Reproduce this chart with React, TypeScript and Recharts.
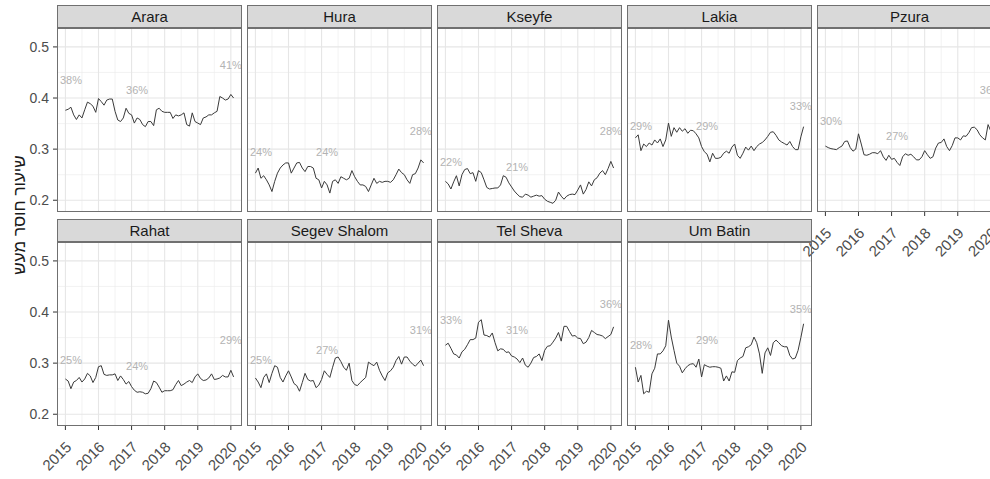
import React from "react";
import { LineChart, Line, XAxis, YAxis, CartesianGrid, ReferenceDot } from "recharts";

// monthly observations, Jan 2015 .. Feb 2020
const START_YEAR = 2015;
const MONTHS = Array.from({ length: 62 }, (_, i) => START_YEAR + i / 12);

const YEARS = [2015, 2016, 2017, 2018, 2019, 2020];
const HALF_YEARS = [2015.5, 2016.5, 2017.5, 2018.5, 2019.5];
const Y_TICKS = [0.2, 0.3, 0.4, 0.5];
const Y_MINOR = [0.25, 0.35, 0.45];

const araraValues = [
  0.376, 0.378, 0.382, 0.367, 0.358, 0.367, 0.361, 0.377, 0.392, 0.389,
  0.384, 0.372, 0.399, 0.393, 0.386, 0.396, 0.398, 0.398, 0.374, 0.357,
  0.354, 0.361, 0.38, 0.37, 0.367, 0.351, 0.361, 0.358, 0.348, 0.344,
  0.354, 0.354, 0.346, 0.377, 0.38, 0.374, 0.372, 0.372, 0.372, 0.36,
  0.367, 0.365, 0.367, 0.371, 0.348, 0.345, 0.371, 0.354, 0.351, 0.348,
  0.361, 0.363, 0.367, 0.367, 0.371, 0.374, 0.403, 0.4, 0.396, 0.398,
  0.407, 0.4,
];
const huraValues = [
  0.253, 0.263, 0.243, 0.248, 0.24, 0.23, 0.217, 0.237, 0.253, 0.263,
  0.269, 0.273, 0.273, 0.253, 0.263, 0.273, 0.274, 0.263, 0.256, 0.266,
  0.266, 0.263, 0.243, 0.24, 0.224, 0.237, 0.23, 0.214, 0.237, 0.24,
  0.233, 0.246, 0.243, 0.24, 0.243, 0.258, 0.246, 0.237, 0.23, 0.23,
  0.227, 0.217, 0.23, 0.243, 0.233, 0.237, 0.235, 0.237, 0.237, 0.235,
  0.24, 0.25, 0.261, 0.254, 0.25, 0.24, 0.233, 0.25, 0.252, 0.263,
  0.279, 0.273,
];
const kseyfeValues = [
  0.237, 0.232, 0.222, 0.236, 0.248, 0.228, 0.25, 0.26, 0.262, 0.252,
  0.254, 0.237, 0.258, 0.254, 0.24, 0.225, 0.222, 0.223, 0.224, 0.224,
  0.23, 0.248, 0.245, 0.234, 0.226, 0.218, 0.212, 0.207, 0.206, 0.212,
  0.21, 0.206, 0.208, 0.21, 0.208, 0.209, 0.202, 0.198, 0.196, 0.194,
  0.2, 0.216, 0.208, 0.202, 0.208, 0.211, 0.212, 0.211, 0.22, 0.23,
  0.212, 0.221, 0.236, 0.228, 0.24, 0.244, 0.253, 0.258, 0.25, 0.262,
  0.276, 0.263,
];
const lakiaValues = [
  0.322, 0.328, 0.297, 0.31, 0.305, 0.312, 0.308, 0.318, 0.312, 0.32,
  0.305, 0.318, 0.351, 0.325, 0.342, 0.333, 0.342, 0.335, 0.34, 0.331,
  0.337, 0.336, 0.33, 0.322, 0.305, 0.295, 0.29, 0.275, 0.292, 0.282,
  0.282, 0.284, 0.292, 0.296, 0.292, 0.304, 0.31, 0.288, 0.282, 0.292,
  0.304, 0.298, 0.306, 0.297, 0.305, 0.31, 0.313, 0.318, 0.325, 0.333,
  0.334, 0.327, 0.318, 0.314, 0.311, 0.308, 0.315, 0.305, 0.299, 0.299,
  0.324, 0.344,
];
const pzuraValues = [
  0.306, 0.303, 0.301, 0.3, 0.299, 0.303, 0.306, 0.315, 0.316, 0.303,
  0.296, 0.3, 0.33, 0.31, 0.289, 0.288, 0.29, 0.293, 0.293, 0.291,
  0.297, 0.285, 0.278, 0.288, 0.28, 0.282, 0.274, 0.268, 0.285, 0.291,
  0.288, 0.29, 0.285, 0.279, 0.279, 0.285, 0.297, 0.289, 0.282, 0.285,
  0.302, 0.312, 0.313, 0.32, 0.305, 0.297, 0.307, 0.322, 0.322, 0.318,
  0.326, 0.325, 0.332, 0.342, 0.343, 0.338, 0.328, 0.322, 0.318, 0.348,
  0.335, 0.322,
];
const rahatValues = [
  0.269, 0.265, 0.25, 0.263, 0.266, 0.272, 0.263, 0.269, 0.28, 0.275,
  0.262, 0.272, 0.293, 0.295, 0.278, 0.276, 0.277, 0.277, 0.279, 0.266,
  0.275, 0.268, 0.259, 0.264, 0.254, 0.247, 0.243, 0.244, 0.243, 0.24,
  0.241, 0.25, 0.265, 0.262, 0.253, 0.243, 0.246, 0.246, 0.246, 0.248,
  0.258, 0.266, 0.256, 0.259, 0.263, 0.266, 0.262, 0.273, 0.279, 0.27,
  0.266, 0.267, 0.271, 0.279, 0.268, 0.269, 0.271, 0.276, 0.273, 0.273,
  0.286, 0.273,
];
const segevShalomValues = [
  0.271, 0.263, 0.252, 0.272, 0.279, 0.262, 0.28, 0.295, 0.292, 0.272,
  0.263, 0.275, 0.285, 0.273, 0.26, 0.256, 0.245, 0.262, 0.28, 0.268,
  0.265, 0.266, 0.252, 0.257, 0.268, 0.285, 0.278, 0.272, 0.292, 0.31,
  0.312, 0.303, 0.292, 0.286, 0.3, 0.266, 0.258, 0.256, 0.262, 0.267,
  0.272, 0.302, 0.298, 0.295, 0.302, 0.286, 0.275, 0.266, 0.281, 0.285,
  0.292, 0.305, 0.313, 0.298, 0.312, 0.312, 0.304, 0.298, 0.294, 0.3,
  0.306, 0.295,
];
const telShevaValues = [
  0.335, 0.339, 0.329, 0.318, 0.316, 0.31, 0.322, 0.327, 0.336, 0.346,
  0.346, 0.349, 0.38, 0.385, 0.355, 0.354, 0.351, 0.359, 0.34, 0.324,
  0.328, 0.327, 0.321, 0.322, 0.314, 0.312, 0.308, 0.301, 0.31, 0.296,
  0.292, 0.3, 0.311, 0.313, 0.318, 0.305, 0.325, 0.333, 0.334, 0.341,
  0.349, 0.36, 0.343, 0.372, 0.372, 0.362, 0.353, 0.354, 0.349, 0.348,
  0.338, 0.341, 0.35, 0.364, 0.36, 0.356, 0.355, 0.353, 0.348, 0.352,
  0.356, 0.371,
];
const umBatinValues = [
  0.292, 0.263, 0.276, 0.24, 0.245, 0.243, 0.279, 0.29, 0.318, 0.318,
  0.324, 0.334, 0.384, 0.351, 0.325, 0.3, 0.294, 0.281, 0.289, 0.295,
  0.298, 0.299, 0.292, 0.308, 0.273, 0.297, 0.294, 0.292, 0.293, 0.293,
  0.292, 0.29, 0.265, 0.275, 0.265, 0.283, 0.282, 0.305, 0.31, 0.313,
  0.33, 0.332, 0.336, 0.351, 0.34, 0.318, 0.28, 0.32, 0.33, 0.315,
  0.34, 0.345, 0.34, 0.334, 0.332, 0.332, 0.315, 0.308, 0.31, 0.325,
  0.35, 0.377,
];

const araraLabels = ["38%", "36%", "41%"];
const huraLabels = ["24%", "24%", "28%"];
const kseyfeLabels = ["22%", "21%", "28%"];
const lakiaLabels = ["29%", "29%", "33%"];
const pzuraLabels = ["30%", "27%", "36%"];
const rahatLabels = ["25%", "24%", "29%"];
const segevShalomLabels = ["25%", "27%", "31%"];
const telShevaLabels = ["33%", "31%", "36%"];
const umBatinLabels = ["28%", "29%", "35%"];

const PANELS = [
  { name: "Arara", values: araraValues, labels: araraLabels },
  { name: "Hura", values: huraValues, labels: huraLabels },
  { name: "Kseyfe", values: kseyfeValues, labels: kseyfeLabels },
  { name: "Lakia", values: lakiaValues, labels: lakiaLabels },
  { name: "Pzura", values: pzuraValues, labels: pzuraLabels },
  { name: "Rahat", values: rahatValues, labels: rahatLabels },
  { name: "Segev Shalom", values: segevShalomValues, labels: segevShalomLabels },
  { name: "Tel Sheva", values: telShevaValues, labels: telShevaLabels },
  { name: "Um Batin", values: umBatinValues, labels: umBatinLabels },
];

const FONT = "Arial, 'Liberation Sans', 'DejaVu Sans', sans-serif";
const PANEL_W = 185;
const PANEL_H = 184;
const COL_X = [57, 247, 437, 627, 817];
const ROW_Y = [28, 242];
const STRIP_H = 23;
const PAD_LEFT = 40; // room for the rotated year labels of inner panels
const X_DOMAIN = [2014.746, 2020.337];
const Y_DOMAIN = [0.177, 0.537];
const LABEL_IDX = [2, 26, 60];
const LABEL_OFFSET = 0.055;

const YearTick = (props: any) => {
  const { x, y, payload } = props;
  const ax = x + 7;
  const ay = y + 16;
  return (
    <text
      x={ax}
      y={ay}
      transform={`rotate(-45, ${ax}, ${ay})`}
      textAnchor="end"
      fill="#4d4d4d"
      fontSize={15}
    >
      {payload.value}
    </text>
  );
};

const Panel = ({ idx }: { idx: number }) => {
  const { name, values, labels } = PANELS[idx];
  const col = idx % 5;
  const row = Math.floor(idx / 5);
  const left = COL_X[col];
  const top = ROW_Y[row];
  const showY = col === 0;
  const showX = row === 1 || idx === 4;
  const padL = showY ? left : PAD_LEFT;
  const xH = showX ? 55 : 0;
  const data = MONTHS.map((t, i) => ({ t, v: values[i] }));

  return (
    <>
      <div
        style={{
          position: "absolute",
          left,
          top: top - STRIP_H,
          width: PANEL_W,
          height: STRIP_H,
          background: "#d9d9d9",
          border: "1px solid #707070",
          boxSizing: "border-box",
          textAlign: "center",
          fontSize: 15,
          lineHeight: `${STRIP_H - 2}px`,
          color: "#1a1a1a",
        }}
      >
        {name}
      </div>
      <div style={{ position: "absolute", left: left - padL, top }}>
        <LineChart
          width={PANEL_W + padL}
          height={PANEL_H + xH}
          data={data}
          margin={{ top: 0, right: 0, bottom: 0, left: showY ? 0 : PAD_LEFT }}
        >
          <CartesianGrid
            stroke="#ebebeb"
            strokeWidth={0.6}
            horizontalValues={Y_MINOR}
            verticalValues={HALF_YEARS}
          />
          <CartesianGrid
            stroke="#e6e6e6"
            strokeWidth={1.1}
            horizontalValues={Y_TICKS}
            verticalValues={YEARS}
          />
          <XAxis
            type="number"
            dataKey="t"
            domain={X_DOMAIN}
            allowDataOverflow
            ticks={YEARS}
            hide={!showX}
            height={xH}
            axisLine={false}
            tickLine={{ stroke: "#333" }}
            tickSize={4}
            tickMargin={2}
            tick={<YearTick />}
            interval={0}
          />
          <YAxis
            type="number"
            domain={Y_DOMAIN}
            allowDataOverflow
            ticks={Y_TICKS}
            hide={!showY}
            width={showY ? left : 0}
            axisLine={false}
            tickLine={{ stroke: "#333" }}
            tickSize={4}
            tickMargin={4}
            tick={{ fill: "#4d4d4d", fontSize: 14 }}
            tickFormatter={(v: number) => v.toFixed(1)}
            interval={0}
          />
          <Line
            type="linear"
            dataKey="v"
            stroke="#3a3a3a"
            strokeWidth={1}
            dot={false}
            isAnimationActive={false}
          />
          {labels.map((lab, k) => (
            <ReferenceDot
              key={k}
              x={MONTHS[LABEL_IDX[k]]}
              y={parseFloat(lab) / 100 + LABEL_OFFSET}
              r={0}
              fill="none"
              stroke="none"
              label={{ value: lab, position: "center", fill: "#b3b3b3", fontSize: 11 }}
            />
          ))}
        </LineChart>
      </div>
      <div
        style={{
          position: "absolute",
          left,
          top,
          width: PANEL_W,
          height: PANEL_H,
          border: "1px solid #707070",
          boxSizing: "border-box",
          pointerEvents: "none",
        }}
      />
    </>
  );
};

export default function App() {
  return (
    <div
      style={{
        position: "absolute",
        left: 0,
        top: 0,
        width: 990,
        height: 479,
        overflow: "hidden",
        background: "#fff",
        fontFamily: FONT,
      }}
    >
      <svg width={40} height={479} style={{ position: "absolute", left: 0, top: 0 }}>
        <text
          transform="translate(25, 215) rotate(-90)"
          textAnchor="middle"
          fontSize={17}
          fill="#1a1a1a"
        >
          שיעור חוסר מעש
        </text>
      </svg>
      {PANELS.map((_, i) => (
        <Panel key={i} idx={i} />
      ))}
    </div>
  );
}
